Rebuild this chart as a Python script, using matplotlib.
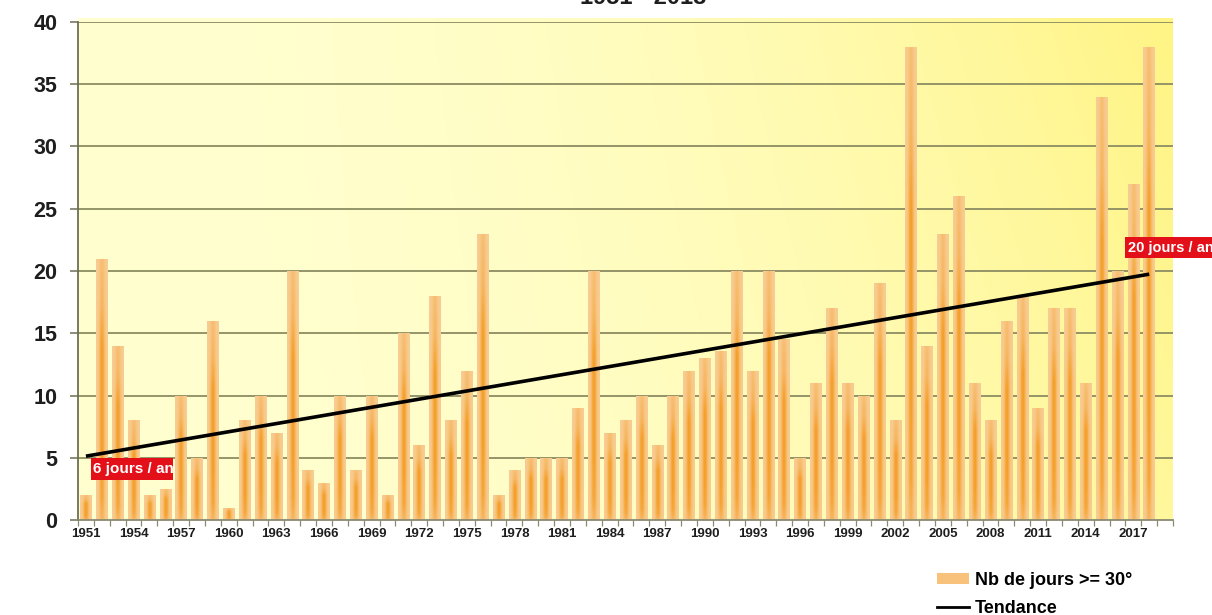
import numpy as np
import matplotlib
matplotlib.use("Agg")
import matplotlib.pyplot as plt
from matplotlib.patches import Rectangle, Patch
from matplotlib.lines import Line2D
from matplotlib.transforms import Bbox, TransformedBbox

# Number of days with max temperature >= 30 degrees, per year
years = list(range(1951, 2019))
days_30 = [
    2, 21, 14, 8, 2, 2.5, 10, 5, 16, 1,          # 1951-1960
    8, 10, 7, 20, 4, 3, 10, 4, 10, 2,            # 1961-1970
    15, 6, 18, 8, 12, 23, 2, 4, 5, 5,            # 1971-1980
    5, 9, 20, 7, 8, 10, 6, 10, 12, 13,           # 1981-1990
    13.6, 20, 12, 20, 14.5, 5, 11, 17, 11, 10,   # 1991-2000
    19, 8, 38, 14, 23, 26, 11, 8, 16, 18,        # 2001-2010
    9, 17, 17, 11, 34, 20, 27, 38,               # 2011-2018
]
ytick_values = [0, 5, 10, 15, 20, 25, 30, 35, 40]
xtick_years = years[::3]
title_text = "1951 - 2018"
label_start = "6 jours / an"
label_end = "20 jours / an"
legend_labels = ["Nb de jours >= 30°", "Tendance"]

plt.rcParams["font.family"] = ["Liberation Sans", "DejaVu Sans"]

W, H = 1212, 615
fig = plt.figure(figsize=(W / 100, H / 100), dpi=100)
fig.patch.set_facecolor("white")

# plot-area geometry in pixels
px_left, px_right, px_top, px_bottom = 78, 1173, 22, 520
ax_rect = [px_left / W, 1 - px_bottom / H,
           (px_right - px_left) / W, (px_bottom - px_top) / H]

# yellow gradient background (slightly taller than the axes)
bg = fig.add_axes([px_left / W, 1 - px_bottom / H,
                   (px_right - px_left) / W, (px_bottom - 18) / H], zorder=0)
gx = np.linspace(0, 1, 300)[None, :]
gy = np.linspace(1, 0, 150)[:, None]
s = np.clip(gx ** 2.0 * (0.7 + 0.3 * gy), 0, 1)
c0 = np.array([255, 255, 208]) / 255
c1 = np.array([255, 244, 132]) / 255
bg_img = c0[None, None, :] * (1 - s[..., None]) + c1[None, None, :] * s[..., None]
bg.imshow(bg_img, aspect="auto", extent=[0, 1, 0, 1], interpolation="bilinear")
bg.axis("off")

ax = fig.add_axes(ax_rect, zorder=1)
ax.patch.set_alpha(0)

x = np.arange(len(years))
bar_w = 0.72

# bar fill: peach edges, saturated orange centre stripe,
# fading toward the top and slightly toward the base
light = np.array([248, 204, 146]) / 255
dark = np.array([245, 158, 38]) / 255
u = np.linspace(0, 1, 40)[None, :]
t = np.linspace(1, 0, 120)[:, None]
hprof = np.exp(-((u - 0.5) / 0.22) ** 2)
vprof = np.interp(t, [0, 0.08, 0.25, 0.66, 0.82, 1.0], [0.5, 0.85, 1.0, 1.0, 0.5, 0.3])
mix = (hprof * vprof)[..., None]
bar_img = light[None, None, :] * (1 - mix) + dark[None, None, :] * mix

bars = ax.bar(x, days_30, width=bar_w, color=light, edgecolor="none", zorder=2)
for b, v in zip(bars, days_30):
    x0 = b.get_x()
    im = ax.imshow(bar_img, extent=[x0, x0 + b.get_width(), 0, v],
                   aspect="auto", interpolation="bilinear", zorder=2.1)
    im.set_clip_path(b)

# linear trend
coef = np.polyfit(np.array(years, dtype=float), np.array(days_30, dtype=float), 1)
trend = np.polyval(coef, np.array(years, dtype=float))
ax.plot(x, trend, color="black", lw=2.6, zorder=3, solid_capstyle="butt")

ax.set_xlim(-0.5, len(years) + 0.5)
ax.set_ylim(0, 40)
ax.set_aspect("auto")

# grid and axes styling
for yv in ytick_values[1:]:
    ax.axhline(yv, color="#8c8c62", lw=1.3, zorder=1)
for side in ("top", "right"):
    ax.spines[side].set_visible(False)
ax.spines["left"].set_color("#6e6e55")
ax.spines["left"].set_linewidth(1.3)
ax.spines["bottom"].set_color("#8a8a72")
ax.spines["bottom"].set_linewidth(1.3)

ax.set_yticks(ytick_values)
ax.set_yticklabels([str(v) for v in ytick_values], fontsize=15.5, fontweight="bold", color="#1e1e1e")
ax.tick_params(axis="y", length=6, width=1.1, color="#6e6e55", pad=9)

ax.set_xticks([years.index(yv) for yv in xtick_years])
ax.set_xticklabels([str(yv) for yv in xtick_years], fontsize=9.5, fontweight="bold", color="#1e1e1e")
ax.set_xticks(np.arange(-0.5, len(years) + 1.0, 1.0), minor=True)
ax.tick_params(axis="x", which="major", length=0, pad=6)
ax.tick_params(axis="x", which="minor", length=4, width=0.9, color="#8a8a72")

# red value boxes at both ends of the trend
box_l = (0.0119, 0.0803, 0.0749, 0.0442)
ax.add_patch(Rectangle(box_l[:2], box_l[2], box_l[3], transform=ax.transAxes,
                       facecolor="#e3101a", edgecolor="none", zorder=4))
tl = ax.text(box_l[0] + 0.002, box_l[1] + box_l[3] / 2, label_start, transform=ax.transAxes,
             color="white", fontsize=11, fontweight="bold", va="center", ha="left", zorder=5)
tl.set_clip_box(TransformedBbox(Bbox([[box_l[0], box_l[1]],
                                      [box_l[0] + box_l[2], box_l[1] + box_l[3]]]),
                                ax.transAxes))
tl.set_clip_on(True)

box_r = (0.956, 0.526, 0.1, 0.042)
ax.add_patch(Rectangle(box_r[:2], box_r[2], box_r[3], transform=ax.transAxes,
                       facecolor="#e3101a", edgecolor="none", zorder=4, clip_on=False))
ax.text(box_r[0] + 0.003, box_r[1] + box_r[3] / 2, label_end, transform=ax.transAxes,
        color="white", fontsize=10.5, fontweight="bold", va="center", ha="left",
        zorder=5, clip_on=False)

# title, mostly above the top edge
fig.text(643 / W, 1 - 4 / H, title_text, ha="center", va="baseline",
         fontsize=17, fontweight="bold", color="#1e1e1e")

# legend
handles = [Patch(facecolor="#f8c27c", edgecolor="none"),
           Line2D([], [], color="black", lw=2.0)]
fig.legend(handles, legend_labels, loc="upper left",
           bbox_to_anchor=(937 / W, 1 - 572 / H), frameon=False,
           prop={"family": ["Liberation Sans"], "weight": "bold", "size": 13},
           handlelength=1.8, handleheight=0.5, handletextpad=0.3,
           labelspacing=0.6, borderpad=0, borderaxespad=0)

fig.savefig("out.png", dpi=100, facecolor="white")
